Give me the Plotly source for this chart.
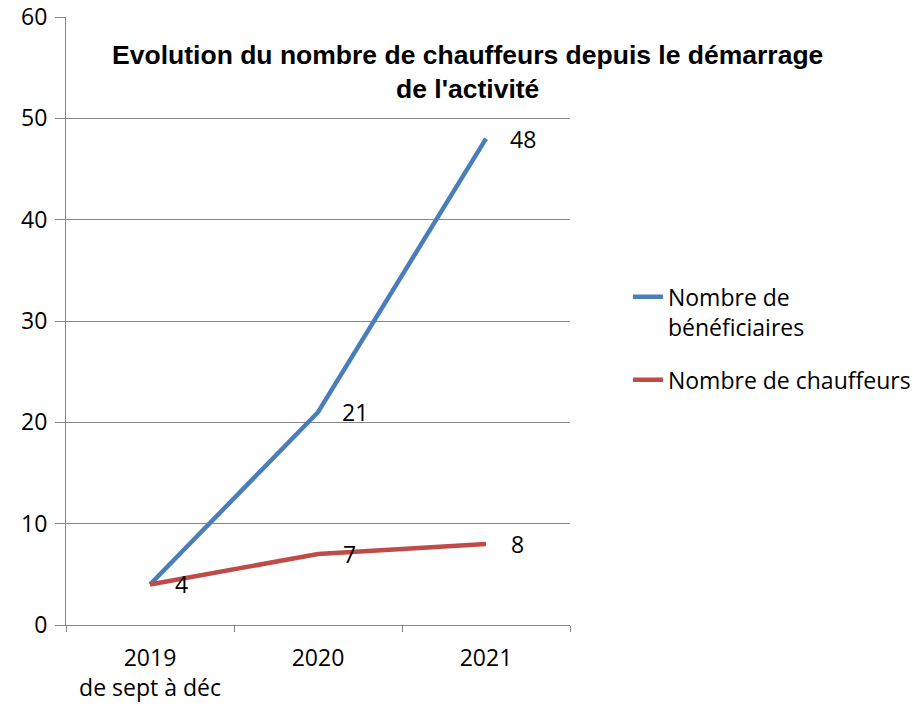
"""Evolution du nombre de chauffeurs - line chart."""

import plotly.graph_objects as go

years = ["2019<br>de sept à déc", "2020", "2021"]
beneficiaires = [4, 21, 48]
chauffeurs = [4, 7, 8]
series_names = ["Nombre de<br>bénéficiaires", "Nombre de chauffeurs"]
title_text = "Evolution du nombre de chauffeurs depuis le démarrage<br>de l'activité"

BLUE = "#4A7EBB"
RED = "#BE4B48"
GRID = "#868686"
FONT = "Open Sans"

fig = go.Figure()
fig.add_trace(go.Scatter(x=years, y=beneficiaires, name=series_names[0], mode="lines",
                         legendgroup="a", line=dict(color=BLUE, width=4.5)))
fig.add_trace(go.Scatter(x=years, y=chauffeurs, name=series_names[1], mode="lines",
                         legendgroup="b", line=dict(color=RED, width=4.5)))

# data labels (category index as x); first blue label sits under the red one in the original
for i, v in enumerate(beneficiaires):
    if i == 0:
        continue
    fig.add_annotation(x=i, y=v, text=str(v), showarrow=False, xanchor="left", xshift=22)
for i, v in enumerate(chauffeurs):
    fig.add_annotation(x=i, y=v, text=str(v), showarrow=False, xanchor="left", xshift=23)

fig.update_layout(
    width=913, height=706,
    margin=dict(l=66, r=343, t=17, b=81, autoexpand=False),
    paper_bgcolor="white", plot_bgcolor="white",
    font=dict(family=FONT, size=23, color="black"),
    title=dict(text=title_text, x=0.5123, xanchor="center", y=0.9096, yanchor="top",
               font=dict(family="Liberation Sans", size=26.5, color="black", weight="bold")),
    legend=dict(x=1.115, y=0.575, xanchor="left", yanchor="top", valign="top",
                tracegroupgap=20, font=dict(family=FONT, size=23), bgcolor="rgba(0,0,0,0)"),
    showlegend=True,
)
fig.update_xaxes(type="category", range=[-0.5, 2.5], showline=True, linecolor=GRID, linewidth=1,
                 ticks="outside", tickson="boundaries", ticklen=6, tickcolor=GRID,
                 ticklabelstandoff=12, showgrid=False, zeroline=False)
fig.update_yaxes(range=[0, 60], dtick=10, showline=True, linecolor=GRID, linewidth=1,
                 ticks="outside", ticklen=10, tickcolor=GRID, ticklabelstandoff=3,
                 ticklabeloverflow="allow", showgrid=True, gridcolor=GRID, gridwidth=1,
                 zeroline=False)

# drop the default body margin so the figure fills the window exactly
fig.write_html("out.html", config={"displayModeBar": False},
               post_script="document.body.style.margin = '0';")
